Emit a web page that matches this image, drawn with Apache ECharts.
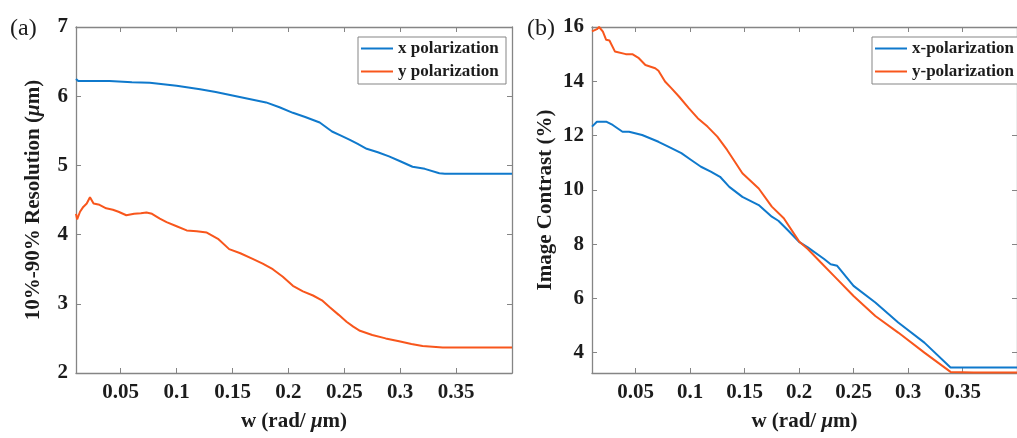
<!DOCTYPE html>
<html>
<head>
<meta charset="utf-8">
<script src="https://cdn.jsdelivr.net/npm/echarts@6/dist/echarts.min.js"></script>
<style>
html,body{margin:0;padding:0;background:#fff;}
#c{width:1017px;height:438px;}
</style>
</head>
<body>
<div id="c"></div>
<script>
// ---- data ----
var xTicks = [0.05, 0.1, 0.15, 0.2, 0.25, 0.3, 0.35];
var yTicksA = [2, 3, 4, 5, 6, 7];
var yTicksB = [4, 6, 8, 10, 12, 14, 16];

var aXpolW = [0.01, 0.012, 0.02, 0.04, 0.06, 0.076, 0.09, 0.1, 0.121, 0.135, 0.15, 0.165, 0.18, 0.192, 0.204, 0.215, 0.228, 0.239, 0.247, 0.255, 0.262, 0.27, 0.28, 0.29, 0.3, 0.311, 0.322, 0.335, 0.34, 0.37, 0.4];
var aXpolR = [6.25, 6.22, 6.22, 6.22, 6.2, 6.195, 6.17, 6.15, 6.10, 6.06, 6.01, 5.96, 5.91, 5.84, 5.76, 5.70, 5.62, 5.49, 5.43, 5.37, 5.31, 5.24, 5.19, 5.13, 5.06, 4.98, 4.95, 4.886, 4.88, 4.88, 4.88];

var aYpolW = [0.01, 0.011, 0.0136, 0.0165, 0.0196, 0.0225, 0.0257, 0.031, 0.037, 0.043, 0.048, 0.055, 0.062, 0.068, 0.073, 0.078, 0.082, 0.085, 0.091, 0.1, 0.109, 0.118, 0.127, 0.137, 0.147, 0.157, 0.168, 0.177, 0.186, 0.195, 0.204, 0.213, 0.222, 0.23, 0.237, 0.245, 0.252, 0.258, 0.264, 0.275, 0.287, 0.299, 0.31, 0.32, 0.338, 0.36, 0.4];
var aYpolR = [4.30, 4.22, 4.33, 4.40, 4.45, 4.54, 4.45, 4.43, 4.38, 4.36, 4.33, 4.28, 4.30, 4.31, 4.32, 4.30, 4.26, 4.23, 4.18, 4.12, 4.06, 4.05, 4.03, 3.94, 3.79, 3.73, 3.65, 3.58, 3.50, 3.39, 3.26, 3.18, 3.12, 3.05, 2.95, 2.84, 2.74, 2.67, 2.61, 2.55, 2.50, 2.46, 2.42, 2.39, 2.37, 2.37, 2.37];

var bXpolW = [0.01, 0.0145, 0.023, 0.029, 0.038, 0.044, 0.056, 0.071, 0.08, 0.092, 0.101, 0.11, 0.119, 0.1275, 0.136, 0.148, 0.163, 0.175, 0.181, 0.19, 0.2, 0.208, 0.223, 0.229, 0.235, 0.25, 0.27, 0.291, 0.315, 0.339, 0.36, 0.4];
var bXpolC = [12.33, 12.51, 12.51, 12.39, 12.14, 12.14, 12.02, 11.77, 11.59, 11.35, 11.1, 10.85, 10.67, 10.48, 10.11, 9.74, 9.44, 9.01, 8.86, 8.5, 8.08, 7.88, 7.45, 7.26, 7.2, 6.46, 5.85, 5.11, 4.37, 3.45, 3.45, 3.45];

var bYpolW = [0.01, 0.0145, 0.0165, 0.02, 0.023, 0.026, 0.031, 0.041, 0.047, 0.053, 0.059, 0.068, 0.071, 0.077, 0.083, 0.09, 0.099, 0.107, 0.116, 0.125, 0.134, 0.142, 0.148, 0.163, 0.175, 0.186, 0.2, 0.208, 0.22, 0.232, 0.25, 0.27, 0.291, 0.315, 0.339, 0.36, 0.4];
var bYpolC = [15.84, 15.92, 16.0, 15.83, 15.53, 15.5, 15.1, 15.0, 15.0, 14.85, 14.6, 14.48, 14.39, 13.99, 13.74, 13.43, 13.0, 12.64, 12.33, 11.96, 11.47, 10.98, 10.61, 10.05, 9.38, 8.95, 8.1, 7.82, 7.32, 6.83, 6.09, 5.35, 4.74, 4.0, 3.29, 3.27, 3.27];

// ---- chart ----
var BLUE = '#0F79CC';
var ORANGE = '#F8561C';
var AXC = '#858585';
var TXT = '#1c1c1c';
var FONT = '"Liberation Serif", "Times New Roman", serif';

function pairs(xs, ys) { return xs.map(function (x, i) { return [x, ys[i]]; }); }

function xAx(grid, pos, labels) {
  return {
    type: 'value', gridIndex: grid, position: pos, min: 0.01, max: 0.4,
    axisLine: { show: true, onZero: false, lineStyle: { color: AXC, width: 1.3 } },
    axisTick: { show: true, inside: true, length: 5, customValues: xTicks, lineStyle: { color: AXC } },
    axisLabel: { show: labels, customValues: xTicks, margin: 9, color: TXT, fontFamily: FONT, fontWeight: 'bold', fontSize: 21 },
    splitLine: { show: false },
    name: labels ? 'w (rad/ {i|μ}m)' : '',
    nameLocation: 'middle', nameGap: 38,
    nameTextStyle: { color: TXT, fontFamily: FONT, fontWeight: 'bold', fontSize: 21,
      rich: { i: { fontStyle: 'italic', fontFamily: FONT, fontWeight: 'bold', fontSize: 21, color: TXT } } }
  };
}
function yAx(grid, pos, labels, min, max, ticks, name, gap) {
  return {
    type: 'value', gridIndex: grid, position: pos, min: min, max: max,
    axisLine: { show: true, onZero: false, lineStyle: { color: AXC, width: 1.3 } },
    axisTick: { show: true, inside: true, length: 5, customValues: ticks, lineStyle: { color: AXC } },
    axisLabel: { show: labels, customValues: ticks, margin: 8, color: TXT, fontFamily: FONT, fontWeight: 'bold', fontSize: 21 },
    splitLine: { show: false },
    name: labels ? name : '',
    nameLocation: 'middle', nameGap: gap,
    nameTextStyle: { color: TXT, fontFamily: FONT, fontWeight: 'bold', fontSize: 21,
      rich: { i: { fontStyle: 'italic', fontFamily: FONT, fontWeight: 'bold', fontSize: 21, color: TXT } } }
  };
}
function leg(data, left, top, w) {
  return {
    data: data, orient: 'vertical', left: left, top: top,
    icon: 'rect', itemWidth: 32, itemHeight: 2, itemGap: 6, itemTextGap: 3,
    padding: [3, 5, 4, 3], borderColor: AXC, borderWidth: 1, backgroundColor: '#fff',
    textStyle: { color: TXT, fontFamily: FONT, fontWeight: 'bold', fontSize: 17, width: w, lineHeight: 17 },
    selectedMode: false
  };
}
function line(name, xi, yi, d, c) {
  return { name: name, type: 'line', xAxisIndex: xi, yAxisIndex: yi, data: d, showSymbol: false, symbol: 'none',
    lineStyle: { color: c, width: 2 }, itemStyle: { color: c }, clip: true, z: 3 };
}

var chart = echarts.init(document.getElementById('c'), null, { renderer: 'canvas' });
chart.setOption({
  animation: false,
  backgroundColor: '#fff',
  grid: [
    { left: 76, top: 27, width: 436, height: 346 },
    { left: 592, top: 27, width: 436, height: 346 }
  ],
  xAxis: [xAx(0, 'bottom', true), xAx(0, 'top', false), xAx(1, 'bottom', true), xAx(1, 'top', false)],
  yAxis: [
    yAx(0, 'left', true, 2, 7, yTicksA, '10%-90% Resolution ({i|μ}m)', 32),
    yAx(0, 'right', false, 2, 7, yTicksA, '', 0),
    yAx(1, 'left', true, 3.25, 16, yTicksB, 'Image Contrast (%)', 36),
    yAx(1, 'right', false, 3.25, 16, yTicksB, '', 0)
  ],
  legend: [
    leg(['x polarization', 'y polarization'], 358, 37, 103),
    leg(['x-polarization', 'y-polarization'], 872, 37, 105)
  ],
  series: [
    line('x polarization', 0, 0, pairs(aXpolW, aXpolR), BLUE),
    line('y polarization', 0, 0, pairs(aYpolW, aYpolR), ORANGE),
    line('x-polarization', 2, 2, pairs(bXpolW, bXpolC), BLUE),
    line('y-polarization', 2, 2, pairs(bYpolW, bYpolC), ORANGE)
  ],
  graphic: [
    { type: 'text', left: 10, top: 17, style: { text: '(a)', font: '24px ' + FONT, fill: TXT } },
    { type: 'text', left: 527, top: 17, style: { text: '(b)', font: '24px ' + FONT, fill: TXT } }
  ]
});
</script>
</body>
</html>
